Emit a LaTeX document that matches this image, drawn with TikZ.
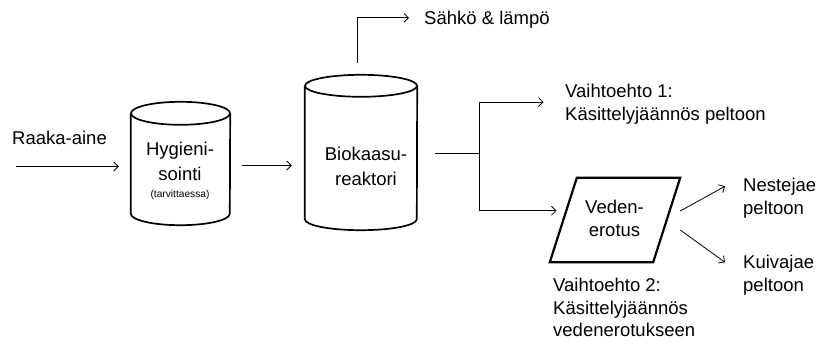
\documentclass[tikz,border=0pt]{standalone}
\usepackage{fontspec}
\setmainfont{Liberation Sans}
\usetikzlibrary{arrows.meta}
\begin{document}
\begin{tikzpicture}[x=1pt,y=-1pt,
  txt/.style={inner sep=0pt, font=\fontsize{18.5}{22.5}\selectfont, align=left},
  ctxt/.style={inner sep=0pt, font=\fontsize{18.5}{24.5}\selectfont, align=center},
  smalltxt/.style={inner sep=0pt, font=\fontsize{10.2}{12}\selectfont},
  boxnode/.style={inner sep=0pt, draw=none},
  cyl/.style={line width=1.7pt},
  para/.style={line width=2.2pt},
  flow/.style={line width=0.8pt, -{Straight Barb[length=4.5pt,width=9pt]}},
  plainline/.style={line width=0.8pt}]
\useasboundingbox (0,0) rectangle (816,345);

% Hygienisointi cylinder
\node[boxnode, minimum width=99pt, minimum height=123pt] (hyg) at (180.5,163.5) {};
\draw[cyl] ([yshift=-11.5pt]hyg.north west) -- ([yshift=11.5pt]hyg.south west)
  arc[start angle=180, end angle=360, x radius=49.5pt, y radius=11.5pt]
  -- ([yshift=-11.5pt]hyg.north east);
\draw[cyl] ([yshift=-11.5pt]hyg.north) ellipse [x radius=49.5pt, y radius=11.5pt];
\node[ctxt, anchor=north] (hygt) at (180,142) {Hygieni-\\sointi};
\node[smalltxt, anchor=base] (hygs) at (180,197) {(tarvittaessa)};

% Biokaasureaktori cylinder
\node[boxnode, minimum width=112pt, minimum height=155pt] (bio) at (361,152.5) {};
\draw[cyl] ([yshift=-11pt]bio.north west) -- ([yshift=11pt]bio.south west)
  arc[start angle=180, end angle=360, x radius=56pt, y radius=11pt]
  -- ([yshift=-11pt]bio.north east);
\draw[cyl] ([yshift=-11pt]bio.north) ellipse [x radius=56pt, y radius=11pt];
\node[ctxt, anchor=north] (biot) at (366,147) {Biokaasu-\\reaktori};

% Vedenerotus parallelogram
\node[boxnode, minimum width=130pt, minimum height=84pt] (ved) at (615,220) {};
\draw[para] ([xshift=27pt]ved.north west) -- (ved.north east)
  -- ([xshift=-27pt]ved.south east) -- (ved.south west) -- cycle;
\node[ctxt, anchor=north, font=\fontsize{18.5}{23}\selectfont] (vedt) at (614.5,200) {Veden-\\erotus};

% Texts
\node[txt, anchor=north west] (raaka) at (12,131) {Raaka-aine};
\node[txt, anchor=north west] (sahko) at (424,11) {Sähkö \& lämpö};
\node[txt, anchor=north west] (v1) at (565,84) {Vaihtoehto 1:\\Käsittelyjäännös peltoon};
\node[txt, anchor=north west] (v2) at (553,278) {Vaihtoehto 2:\\Käsittelyjäännös\\vedenerotukseen};
\node[txt, anchor=north west] (nest) at (743,178) {Nestejae\\peltoon};
\node[txt, anchor=north west] (kuiv) at (743,255) {Kuivajae\\peltoon};

% Connectors
\coordinate (in) at (16,166.5);
\draw[flow] (in) -- ([xshift=-12pt,yshift=-3pt]hyg.west);
\draw[flow] ([xshift=12pt,yshift=-2pt]hyg.east) -- ([xshift=-13pt,yshift=-13pt]bio.west);
\draw[flow] ([xshift=-4pt,yshift=12pt]bio.north) |- ([xshift=-15pt,yshift=2pt]sahko.west);
\coordinate (br) at (479.5,153.5);
\draw[plainline] ([xshift=18pt,yshift=-1pt]bio.east) -- (br);
\draw[flow] (br) |- ([xshift=-21.5pt,yshift=2pt]v1.west);
\draw[flow] (br) |- ([xshift=6.7pt,yshift=9.3pt]ved.west);
\draw[flow] ([yshift=9pt]ved.east) -- ([xshift=-18pt,yshift=11.8pt]nest.west);
\draw[flow] ([yshift=-10pt]ved.east) -- ([xshift=-18pt,yshift=12.8pt]kuiv.west);
\end{tikzpicture}
\end{document}
